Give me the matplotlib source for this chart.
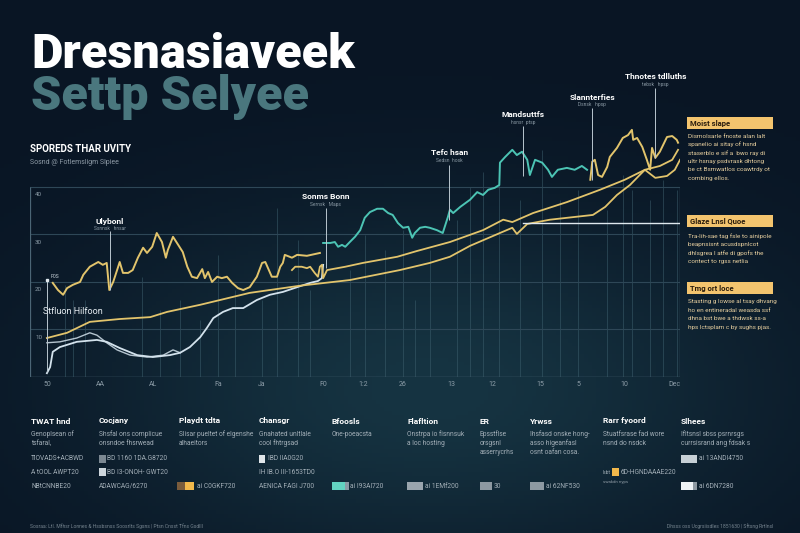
import numpy as np
import matplotlib
matplotlib.use("Agg")
from matplotlib import pyplot as plt
from matplotlib import font_manager
from matplotlib.patches import Rectangle

# ---- data -----------------------------------------------------------------
# x runs 0..100 across the plot, y in chart units (grid every 10)

jag_x = [3.5, 4.3, 5.1, 5.7, 6.6, 7.7, 8.2, 9.2, 10.5, 11.2, 11.8, 12.2, 12.8,
         13.4, 13.8, 14.3, 15.1, 15.8, 16.6, 17.4, 18.0, 18.8, 19.5, 20.3, 20.9,
         21.2, 22.0, 22.8, 23.5, 24.2, 24.9, 25.7, 26.5, 26.9, 27.4, 28.0, 28.8,
         29.5, 30.3, 31.1, 32.0, 32.8, 33.8, 34.9, 35.7, 36.2, 37.2, 38.0, 38.5,
         38.9, 39.2, 40.3, 41.1, 42.6, 44.6]
jag_y = [19.8, 18.3, 17.3, 18.7, 19.4, 20.0, 21.5, 23.2, 24.2, 23.6, 24.0, 18.3,
         20.0, 22.5, 24.2, 21.9, 21.9, 22.5, 25.1, 27.2, 26.1, 27.4, 30.3, 28.4,
         25.1, 26.7, 29.5, 27.8, 26.3, 23.2, 21.1, 20.8, 22.7, 20.8, 22.1, 20.0,
         21.1, 20.8, 21.1, 19.8, 18.7, 18.3, 18.9, 21.1, 24.0, 24.2, 21.1, 21.1,
         23.2, 24.0, 25.7, 25.1, 25.7, 25.5, 26.1]

upper_x = [40.3, 40.8, 41.8, 42.6, 43.1, 43.8, 44.3, 44.6, 44.9, 45.1, 45.7, 48.5,
           51.2, 56.5, 59.5, 64.6, 69.7, 72.8, 74.2, 77.4, 82.6, 87.7, 91.5, 94.6,
           96.9, 98.8, 99.7]
upper_y = [22.5, 23.2, 23.2, 22.9, 23.2, 21.9, 21.1, 23.2, 23.6, 20.8, 22.5, 23.2,
           24.0, 25.3, 26.5, 28.4, 30.9, 33.1, 32.6, 34.5, 36.8, 39.4, 41.5, 43.6,
           44.4, 45.7, 47.8]

lower_x = [2.6, 5.7, 9.2, 13.8, 18.5, 21.1, 26.2, 33.8, 41.5, 49.2, 56.9, 61.5,
           64.6, 67.7, 72.3, 74.2, 74.9, 76.5, 80.0, 86.6, 88.5, 90.3, 92.3, 93.8,
           94.6, 96.2, 98.0, 99.2, 100.0]
lower_y = [8.2, 9.3, 11.6, 12.2, 12.6, 13.7, 15.2, 17.7, 19.2, 20.4, 22.5, 24.0,
           25.3, 27.6, 30.3, 31.4, 30.1, 32.2, 33.1, 34.1, 35.8, 38.3, 40.4, 42.5,
           43.6, 41.9, 42.3, 43.6, 45.7]

right_x = [86.2, 86.5, 86.9, 87.4, 88.0, 88.8, 89.2, 90.3, 91.2, 92.0, 92.6, 92.8,
           93.4, 94.2, 94.9, 95.4, 95.7, 96.2, 96.9, 98.0, 98.8, 99.5, 99.7]
right_y = [41.5, 45.3, 45.7, 42.5, 42.1, 44.2, 46.3, 48.2, 50.3, 50.9, 52.0, 49.9,
           50.3, 48.4, 45.7, 43.6, 48.2, 46.1, 47.4, 50.5, 50.7, 49.9, 49.3]

teal_x = [45.1, 46.2, 46.9, 47.4, 48.0, 48.5, 49.2, 50.0, 50.8, 51.5,
          52.3, 53.4, 54.3, 55.1, 55.8, 56.6, 57.4, 58.2, 58.8, 59.2,
          60.0, 60.8, 61.5, 62.6, 63.5, 64.3, 64.6, 65.1, 66.2, 67.7,
          68.8, 69.7, 70.5, 71.5, 72.2, 72.3, 73.1, 74.2, 74.9, 75.7,
          76.5, 76.9, 77.7, 78.8, 79.7, 80.3, 81.2, 82.6, 83.8, 84.9, 85.7]
teal_y = [28.2, 28.2, 28.4, 27.4, 27.8, 27.4, 28.4, 29.5, 30.9, 33.5,
          34.7, 35.4, 35.4, 34.5, 34.1, 32.4, 31.4, 31.6, 29.3, 30.3,
          31.4, 31.6, 31.4, 30.9, 30.3, 33.7, 35.2, 34.5, 35.8, 37.3,
          38.9, 38.3, 39.4, 39.8, 40.4, 45.1, 46.3, 47.8, 46.7, 47.4,
          45.7, 42.5, 45.7, 45.1, 43.6, 42.1, 43.6, 44.0, 43.6, 44.4, 43.6]

white_x = [2.6, 3.1, 3.5, 4.6, 7.2, 10.3, 11.8, 13.8, 16.5, 18.9, 21.5, 23.1, 24.6,
           26.2, 27.2, 28.2, 29.7, 31.2, 32.8, 34.9, 36.9, 38.9, 41.1, 43.1, 44.3,
           44.9, 45.1]
white_y = [0.8, 2.1, 5.3, 6.3, 7.4, 7.8, 7.4, 6.1, 4.6, 4.2, 4.6, 5.1, 6.3, 8.4,
           10.3, 12.4, 13.7, 14.5, 14.5, 16.2, 17.3, 17.9, 18.9, 19.8, 20.2, 20.8,
           23.6]

bump_x = [2.6, 4.6, 7.2, 9.2, 10.3, 11.8, 13.4, 15.4, 18.0, 20.5, 22.0, 23.1]
bump_y = [7.2, 7.4, 8.2, 9.3, 8.8, 7.2, 5.7, 4.6, 4.2, 4.6, 5.7, 5.1]

# faint background spikes
spike_x = [5.4, 6.6, 8.5, 17.2, 20.0, 23.1, 26.2, 28.9, 31.5, 35.7, 38.0, 41.2,
           43.1, 49.2, 51.5, 54.6, 57.4, 59.2, 61.5, 65.7, 67.7, 69.7, 72.2, 75.4,
           78.8, 81.5, 84.3, 88.8, 91.2, 92.6, 95.4, 97.4, 99.5]
spike_top = [19.4, 16.2, 16.2, 21.1, 14.1, 16.2, 12.0, 25.7, 18.3, 16.2, 35.6,
             28.8, 18.3, 22.5, 29.9, 26.7, 30.9, 16.2, 26.7, 33.1, 40.0, 43.2,
             42.5, 37.3, 47.8, 37.3, 39.4, 35.2, 42.5, 39.4, 37.3, 41.5, 39.4]

grid_y = [10, 20, 30, 40]
ytick_labels = ["10", "20", "30", "40"]
xtick_pos = [2.6, 10.8, 18.9, 28.9, 35.7, 45.1, 51.2, 57.4, 64.9, 71.1, 78.5,
             84.3, 91.5, 99.2]
xtick_labels = ["50", "AA", "AL", "Fa", "Ja", "F0", "1:2", "26", "13", "12",
                "15", "5", "10", "Dec"]

# annotations: title, subtitle, x, label y, line top, line bottom
ann_title = ["Ulybonl", "Sonms Bonn", "Tefc hsan", "Mandsuttfs",
             "Slannterfies", "Thnotes tdlluths"]
ann_sub = ["Ssnnsk   hnsar", "Sernsk   Maps", "Sedsn  hosk", "hsnsr  ptsp",
           "Dsnsk   hpsp", "tebsk   hpsp"]
ann_x = [12.3, 45.5, 64.5, 75.8, 86.5, 96.2]
ann_y = [32.8, 37.9, 47.2, 55.2, 58.9, 63.2]
ann_top = [30.7, 35.6, 44.6, 52.8, 56.6, 60.8]
ann_bot = [18.3, 22.9, 33.1, 42.3, 41.5, 46.1]

side_heads = ["Moist slape", "Glaze Lnsl Quoe", "Tmg ort loce"]
side_body = [
    ["Dismolsarle fnoste alan lalt", "spanelio ai sitay of hsnd",
     "staserblo e sif a  bwo ray di", "ultr hsnay psdvrask dhtong",
     "be ct Bsmwatlos coawtrdy ot", "combing ellos."],
    ["Tra-lih-sae tag fsle to ainipole", "beapnsisnt acusdspnlcot",
     "dhlsgrea l atfe di gpofs the", "contect to rgss netlia"],
    ["Stasting g lowse al tsay dhvang", "ho en entineradal weasda ssf",
     "dhna bst bwe a thdwsk ss-a", "hps lctsplam c by sughs pjas."],
]

foot_heads = ["TWAT hnd", "Cocjany", "Playdt tdta", "Chansgr", "Bfoosls",
              "Flafltion", "ER", "Yrwss", "Rarr fyoord", "Slhees"]
foot_desc = [["Genoplsean of", "tsfaral,"],
             ["Shsfal ons complicue", "onsndoe fhsrwead"],
             ["Slisar pueltet of elgenshe", "alhaeitors"],
             ["Gnahated unltlale", "cool fhtrgsad"],
             ["One-poeacsta"],
             ["Onstrpa io fisnnsuk", "a loc hosting"],
             ["Epsstflse", "orsgsnl", "asserrycrhs"],
             ["Ihsfasd onske hong-", "asso higeanfasl", "osnt oafan cosa."],
             ["Stuatfsrase fad wore", "nsnd do nsdck"],
             ["Ifltsnsl sbss psrnrsgs", "currsisrand ang fdsak s"]]
# (column, row, text)
foot_codes = [(0, 0, "TlOVADS+ACBWD"), (0, 1, "A tOOL AWPT20"), (0, 2, "NBtCNNBE20"),
              (1, 0, "BD 1160 1DA.G8720"), (1, 1, "BD I3-ONOH- GWT20"),
              (1, 2, "ADAWCAG/6270"), (2, 2, "ai C0GKF720"),
              (3, 0, "IBD IIA0G20"), (3, 1, "IH IB.O III-1653TD0"),
              (3, 2, "AENICA FAGI J700"), (4, 2, "ai I93AI720"),
              (5, 2, "ai 1EMf200"), (6, 2, "30"), (7, 2, "ai 62NF530"),
              (8, 1, "6D-HGNDAAAE220"), (9, 0, "ai 13ANDI4750"), (9, 2, "ai 6DN7280")]

title1 = "Dresnasiaveek"
title2 = "Settp Selyee"
kicker = "SPOREDS THAR UVITY"
kicker_sub = "Sosnd @ Fotlemsligm Slpiee"
source_left = "Sosraa: Ltl. Mfhsr Lonnes & Hssbsnss Soosrlts Sgsns | Ptsn Cnsst Tfns Gsdlll"
source_right = "Dhsss oss Ucgrsiisdles 1851630 | Sftsng Rrtlnsl"

# ---- styling --------------------------------------------------------------
BG = "#0a1626"
GOLD = "#e2c46c"
TEAL = "#4cc4b4"
PALE = "#d3e2ec"
GRID = "#2e4757"

names = {f.name for f in font_manager.fontManager.ttflist}
narrow = "Liberation Sans Narrow" in names
TFONT = "Liberation Sans Narrow" if narrow else "Roboto"
plt.rcParams["font.family"] = [TFONT, "DejaVu Sans"]


def fx(px):
    return px / 800.0


def fy(py):
    return 1.0 - py / 533.0


fig = plt.figure(figsize=(8, 5.33), dpi=100)
fig.patch.set_facecolor(BG)

# soft background glow
bg = fig.add_axes([0, 0, 1, 1])
gx, gy = np.meshgrid(np.linspace(0, 800, 200), np.linspace(0, 533, 140))
glow = np.exp(-(((gx - 430) / 330) ** 2 + ((gy - 390) / 170) ** 2))
base = np.array([9, 21, 36]) / 255.0
hi = np.array([22, 52, 66]) / 255.0
img = base[None, None, :] + glow[..., None] * (hi - base)[None, None, :]
bg.imshow(img, extent=[0, 800, 533, 0], aspect="auto")
bg.set_xlim(0, 800)
bg.set_ylim(533, 0)
bg.axis("off")

# ---- chart ----------------------------------------------------------------
ax = fig.add_axes([fx(30), fy(377), 650 / 800, 317 / 533])
ax.set_xlim(0, 100)
ax.set_ylim(0, 66.7)
ax.axis("off")
ax.patch.set_alpha(0)

ax.vlines(spike_x, 0, spike_top, color="#3f6270", lw=0.7, alpha=0.5)
for g in grid_y:
    ax.axhline(g, color=GRID, lw=0.8)
ax.axhline(0, color="#4b6575", lw=1.0)
ax.vlines([0, 100], 0, 40, color="#4b6575", lw=0.9)

for g, lab in zip(grid_y, ytick_labels):
    ax.text(0.8, g - 1.6, lab, color="#8d9da8", fontsize=4.5, va="center")
for x, lab in zip(xtick_pos, xtick_labels):
    ax.text(x, -1.5, lab, color="#8d9da8", fontsize=5, ha="center", va="center",
            clip_on=False)

ax.plot(bump_x, bump_y, color=PALE, lw=1.0, alpha=0.85)
ax.plot(white_x, white_y, color=PALE, lw=1.3)
ax.plot(lower_x, lower_y, color=GOLD, lw=1.3)
ax.plot(upper_x, upper_y, color=GOLD, lw=1.3)
ax.plot(jag_x, jag_y, color=GOLD, lw=1.4)
ax.plot(teal_x, teal_y, color=TEAL, lw=1.4)
ax.plot(right_x, right_y, color=GOLD, lw=1.4)
ax.plot([75.8, 100], [32.4, 32.4], color="#dfe8ee", lw=1.0)

for t, s, x, y, top, bot in zip(ann_title, ann_sub, ann_x, ann_y, ann_top, ann_bot):
    ax.text(x, y, t, color="white", fontsize=6, fontweight="bold",
            ha="center", va="center")
    ax.text(x, y - 1.6, s, color="#8a99a4", fontsize=3.5, ha="center", va="center")
    ax.vlines(x, bot, top, color="#b9c6cf", lw=0.7)

ax.vlines(2.6, 1, 20.6, color="#b9c6cf", lw=0.7)
ax.plot([2.6], [20.4], marker="s", ms=2, color="#dfe8ee")
ax.text(3.2, 21.1, "P0S", color="#c9d3da", fontsize=3.5, va="center")
ax.text(2.0, 13.7, "Stfluon Hilfoon", color="#e6edf2", fontsize=6.5, va="center")

# ---- titles ---------------------------------------------------------------
tsize = 39 if narrow else 35
fig.text(fx(31), fy(68), title1, color="white", fontsize=tsize,
         fontweight=900, family=[TFONT, "DejaVu Sans"], va="baseline")
fig.text(fx(31), fy(110), title2, color="#4a777e", fontsize=tsize,
         fontweight=900, family=[TFONT, "DejaVu Sans"], va="baseline")
fig.text(fx(30), fy(149), kicker, color="white", fontsize=7,
         fontweight="bold", va="center")
fig.text(fx(30), fy(162), kicker_sub, color="#8d9aa5", fontsize=5, va="center")

# ---- right side notes -----------------------------------------------------
head_y = [123, 221, 288]
body_y0 = [136, 236, 302]
for head, body, hy, by in zip(side_heads, side_body, head_y, body_y0):
    fig.patches.append(Rectangle((fx(687), fy(hy + 6)), 86 / 800, 12 / 533,
                                 transform=fig.transFigure, facecolor="#f3c46e",
                                 edgecolor="none"))
    fig.text(fx(690), fy(hy), head, color="#2a1c0c", fontsize=5.5,
             fontweight="bold", va="center")
    for i, line in enumerate(body):
        fig.text(fx(688), fy(by + i * 8.5), line, color="#e7cf9f",
                 fontsize=4.6, va="center")

# ---- footer ---------------------------------------------------------------
foot_x = [31, 99, 179, 259, 332, 407, 480, 530, 603, 681]
row_y = [459, 472, 486]
code_x = {(1, 0): 107, (1, 1): 107, (2, 2): 197, (3, 0): 268, (4, 2): 350,
          (5, 2): 425, (6, 2): 494, (7, 2): 546, (8, 1): 621, (9, 0): 699,
          (9, 2): 699}
swatches = [(99, 459, 7, "#7c8892"), (99, 472, 7, "#cdd6dc"),
            (177, 486, 8, "#7a5c3c"), (185, 486, 9, "#f2b84b"),
            (259, 459, 6, "#dfe5e9"), (332, 486, 13, "#62d3c1"),
            (345, 486, 4, "#8a9aa5"), (407, 486, 16, "#9aa5ae"),
            (480, 486, 12, "#8d99a2"), (530, 486, 14, "#8d99a2"),
            (612, 472, 7, "#f2b84b"), (681, 459, 16, "#c7d0d6"),
            (681, 486, 12, "#eef3f6"), (693, 486, 4, "#8d99a2")]

for x, head, desc in zip(foot_x, foot_heads, foot_desc):
    fig.text(fx(x), fy(421), head, color="white", fontsize=6, fontweight="bold",
             va="center")
    for i, line in enumerate(desc):
        fig.text(fx(x), fy(434 + i * 9.5), line, color="#a3afb8", fontsize=4.8,
                 va="center")

for col, row, txt in foot_codes:
    x = code_x.get((col, row), foot_x[col])
    fig.text(fx(x), fy(row_y[row]), txt, color="#a3afb8", fontsize=4.8,
             va="center")

for x, y, w, c in swatches:
    fig.patches.append(Rectangle((fx(x), fy(y + 4)), w / 800, 8 / 533,
                                 transform=fig.transFigure, facecolor=c,
                                 edgecolor="none"))

fig.text(fx(603), fy(472), "lsbt", color="#a3afb8", fontsize=3.5, va="center")
fig.text(fx(603), fy(482), "swakdn nyps", color="#8a97a1", fontsize=3.2, va="center")

fig.text(fx(30), fy(526), source_left, color="#76848f", fontsize=3.6, va="center")
fig.text(fx(773), fy(526), source_right, color="#76848f", fontsize=3.6,
         va="center", ha="right")

fig.savefig("out.png", dpi=100, facecolor=BG)
